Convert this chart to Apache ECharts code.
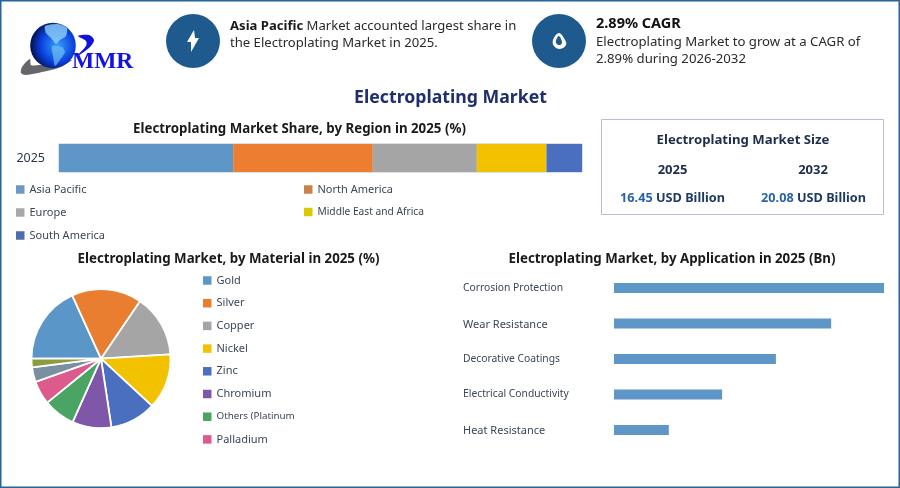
<!DOCTYPE html>
<html><head><meta charset="utf-8">
<style>html,body{margin:0;padding:0;background:#fff}#c{width:900px;height:488px}</style>
<script src="https://cdn.jsdelivr.net/npm/echarts@6/dist/echarts.min.js"></script>
</head><body><div id="c"></div>
<script>
const regionNames = ["Asia Pacific","North America","Europe","Middle East and Africa","South America"];
const regionValues = [33.3,26.7,19.9,13.3,6.8];
const regionYear = ["2025"];
const materialNames = ["Gold","Silver","Copper","Nickel","Zinc","Chromium","Others (Platinum","Palladium","Rhodium","Other"];
const materialValues = [18.2,16.3,14.5,12.9,10.7,9.1,7.4,5.5,3.4,2.0];
const applicationNames = ["Corrosion Protection","Wear Resistance","Decorative Coatings","Electrical Conductivity","Heat Resistance"];
const applicationValues = [5.47,4.40,3.28,2.19,1.11];

const FONT = '"Noto Sans","Open Sans",sans-serif';
const regionColors = ["#5f96c8","#ed7d31","#a5a5a5","#f2c200","#4a6fbf"];
const regionLegendColors = ["#6b98c2","#c98249","#a8a8a8","#d8c900","#4f6ea8"];
const materialColors = ["#5b96c9","#ea7e30","#a5a5a5","#f2c200","#4a6fbf","#7e57a8","#4aa564","#dc5a8c","#7b8fa3","#8a9c3d"];
const legendSmall = {"Middle East and Africa":10.2,"Others (Platinum":9.8};
const axisLarge = ["Wear Resistance","Heat Resistance"];

function legendFor(names,left,top,gap,colors,allNames){
  return {orient:"vertical",left,top,padding:0,itemGap:gap,itemWidth:8.5,itemHeight:8.5,icon:"rect",selectedMode:false,
    textStyle:{color:"#3b4656",fontSize:11,fontFamily:FONT,lineHeight:14},
    data:names.map(n=>({name:n,itemStyle:{color:colors[allNames.indexOf(n)],borderWidth:0},
      textStyle:{fontSize:legendSmall[n]||11,color:"#3b4656",fontFamily:FONT,lineHeight:14}}))};
}
function txt(x,y,text,o){
  return {type:"text",x,y,style:Object.assign({text,fontFamily:FONT,fontSize:13.1,fill:"#222",verticalAlign:"middle"},o||{})};
}
function ttl(text,x,y){return {text,left:x,top:y,padding:0,textAlign:"center",textVerticalAlign:"middle",
  textStyle:{fontFamily:FONT,fontSize:13.3,fontWeight:700,color:"#1a1a1a"}};}
function poly(points,style,smooth){return {type:"polygon",shape:{points,smooth:smooth||0},style};}

const chart = echarts.init(document.getElementById("c"),null,{renderer:"canvas"});
chart.setOption({
  animation:false,
  backgroundColor:"#fff",
  title:[ttl("Electroplating Market Share, by Region in 2025 (%)",299.5,129),
         ttl("Electroplating Market, by Material in 2025 (%)",228.5,259),
         ttl("Electroplating Market, by Application in 2025 (Bn)",672,259)],
  legend:[
    legendFor(["Asia Pacific","Europe","South America"],16,182.5,9,regionLegendColors,regionNames),
    legendFor(["North America","Middle East and Africa"],304,182.5,8.5,regionLegendColors,regionNames),
    legendFor(materialNames.slice(0,8),203,273.5,8.7,materialColors,materialNames)
  ],
  grid:[
    {left:59,top:144,width:523,height:28,show:true,borderColor:"#b5c3d4",borderWidth:1,backgroundColor:"transparent"},
    {left:614,top:270.25,width:270,height:177.5}
  ],
  xAxis:[
    {gridIndex:0,type:"value",min:0,max:100,show:false},
    {gridIndex:1,type:"value",min:0,max:5.47,show:false}
  ],
  yAxis:[
    {gridIndex:0,type:"category",data:regionYear,axisLine:{show:false},axisTick:{show:false},
     axisLabel:{margin:14,color:"#2b3648",fontSize:12.5,fontFamily:FONT}},
    {gridIndex:1,type:"category",inverse:true,data:applicationNames,axisLine:{show:false},axisTick:{show:false},
     axisLabel:{margin:151,align:"left",color:"#3b4656",fontSize:10.3,fontFamily:FONT,
       formatter:v=>axisLarge.includes(v)?"{b|"+v+"}":"{a|"+v+"}",
       rich:{a:{fontSize:10.3,fontFamily:FONT,color:"#3b4656"},
             b:{fontSize:11,fontFamily:FONT,color:"#3b4656",padding:[2,0,0,0]}}}}
  ],
  series:[
    ...regionNames.map((n,i)=>({name:n,type:"bar",stack:"r",xAxisIndex:0,yAxisIndex:0,barWidth:"100%",
      data:[regionValues[i]],itemStyle:{color:regionColors[i]}})),
    {name:"Application",type:"bar",xAxisIndex:1,yAxisIndex:1,barWidth:10,data:applicationValues,itemStyle:{color:"#5f96c8"}},
    {name:"Material",type:"pie",center:[101,358.7],radius:[0,69.5],startAngle:180,clockwise:true,
     label:{show:false},labelLine:{show:false},itemStyle:{borderColor:"#fff",borderWidth:1.8},
     data:materialNames.map((n,i)=>({name:n,value:materialValues[i],itemStyle:{color:materialColors[i]}}))}
  ],
  graphic:{elements:[
    {type:"rect",shape:{x:0.75,y:0.75,width:898.5,height:486.5},style:{fill:"none",stroke:"#26659b",lineWidth:1.5},silent:true},
    // logo
    poly([[30,59],[22,67],[21,73],[26,75],[42,72],[58,68],[72,60],[56,64],[40,65],[31,65]],{fill:"#66666a"},0.3),
    {type:"circle",shape:{cx:53,cy:45.5,r:22.8},style:{fill:new echarts.graphic.RadialGradient(0.6,0.5,0.62,[{offset:0,color:"#35a0f5"},{offset:0.6,color:"#0a3fe0"},{offset:1,color:"#030b3c"}])}},
    poly([[45,26],[58,24],[67,28],[66,36],[60,40],[56,44],[51,38],[46,33]],{fill:"#8fd0f5",opacity:0.8},0.2),
    poly([[52,46],[62,47],[65,52],[60,60],[55,66],[53,56]],{fill:"#6fc0f2",opacity:0.7},0.2),
    poly([[78,36],[89,35],[94,40],[90,47],[76,57],[86,46],[86,41]],{fill:"#1212d8"},0.3),
    txt(72,62,"MMR",{fontFamily:'"Liberation Serif",serif',fontSize:23.5,fontWeight:700,fill:"#1414e0"}),
    // callouts
    {type:"circle",shape:{cx:193,cy:41,r:27},style:{fill:"#1f5a8f"}},
    poly([[194,30],[187,42],[191,42],[191,52],[199,38],[195,38]],{fill:"#fff"}),
    {type:"circle",shape:{cx:559,cy:41,r:27},style:{fill:"#1f5a8f"}},
    poly([[559,33],[565,40],[566,45],[560,49],[554,46],[553,40]],{fill:"#fff"},0.4),
    poly([[559,36],[562,42],[560,45],[556,43],[557,38]],{fill:"#1f5a8f"},0.4),
    {type:"text",x:230,y:26,style:{text:"{b|Asia Pacific} Market accounted largest share in",fontFamily:FONT,fontSize:13.1,fill:"#2a2a2a",verticalAlign:"middle",
      rich:{b:{fontFamily:FONT,fontSize:13.1,fontWeight:700,fill:"#1a1a1a"}}}},
    txt(230,43,"the Electroplating Market in 2025.",{fill:"#2a2a2a"}),
    txt(596,23.5,"2.89% CAGR",{fontSize:14.5,fontWeight:700,fill:"#111"}),
    txt(596,42.5,"Electroplating Market to grow at a CAGR of",{fontSize:13.2,fill:"#2a2a2a"}),
    txt(596,59.5,"2.89% during 2026-2032",{fontSize:13.2,fill:"#2a2a2a"}),
    // main title
    txt(450.5,97.5,"Electroplating Market",{fontSize:17.7,fontWeight:700,fill:"#1f2f6b",align:"center"}),
    // size panel
    {type:"rect",shape:{x:601.5,y:119.5,width:282,height:95},style:{fill:"none",stroke:"#b4c0d0",lineWidth:1}},
    txt(743,140,"Electroplating Market Size",{fontSize:13.2,fontWeight:700,fill:"#1f2d4d",align:"center"}),
    txt(672.5,170,"2025",{fontSize:13,fontWeight:700,fill:"#1f2d4d",align:"center"}),
    txt(813,170,"2032",{fontSize:13,fontWeight:700,fill:"#1f2d4d",align:"center"}),
    {type:"text",x:672.5,y:198,style:{text:"{n|16.45} USD Billion",align:"center",verticalAlign:"middle",fontFamily:FONT,fontSize:12.7,fontWeight:700,fill:"#1f3a63",
      rich:{n:{fontFamily:FONT,fontSize:12.7,fontWeight:700,fill:"#2a63a8"}}}},
    {type:"text",x:813.5,y:198,style:{text:"{n|20.08} USD Billion",align:"center",verticalAlign:"middle",fontFamily:FONT,fontSize:12.7,fontWeight:700,fill:"#1f3a63",
      rich:{n:{fontFamily:FONT,fontSize:12.7,fontWeight:700,fill:"#2a63a8"}}}}
  ]}
});
</script></body></html>
